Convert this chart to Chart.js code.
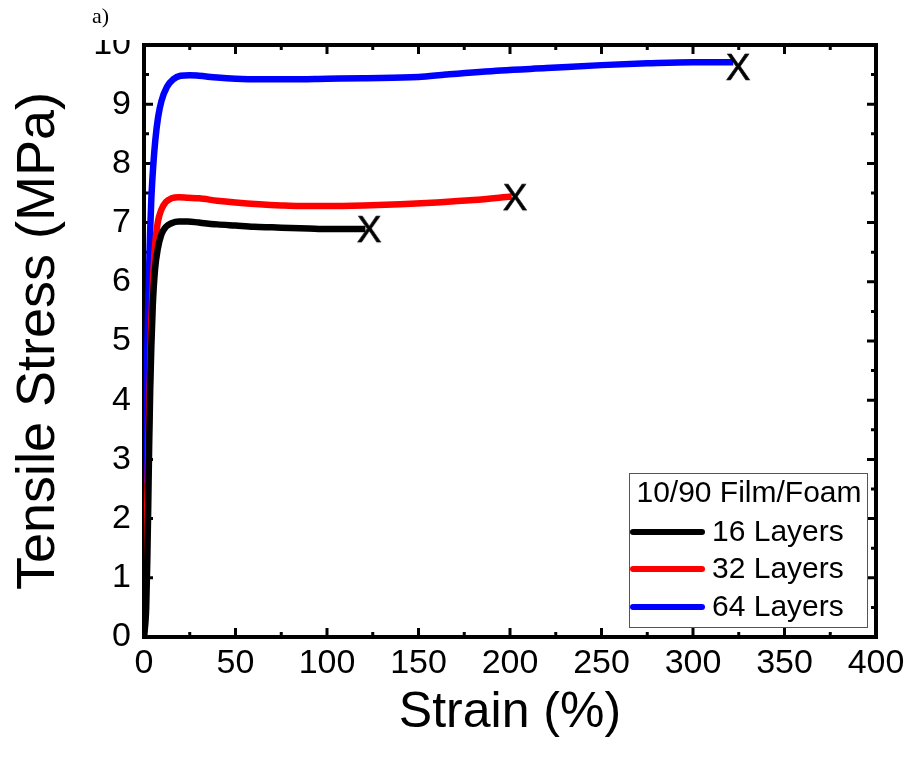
<!DOCTYPE html>
<html>
<head>
<meta charset="utf-8">
<script src="https://cdn.jsdelivr.net/npm/chart.js@4.4.0/dist/chart.umd.min.js"></script>
<style>
html, body { margin: 0; padding: 0; background: #fff; }
</style>
</head>
<body>
<canvas id="stress-strain-chart" width="911" height="767"></canvas>
<script>
const seriesLabels = ['16 Layers', '32 Layers', '64 Layers'];
const seriesColors = ['#000000', '#ff0000', '#0000ff'];
const legendTitle = '10/90 Film/Foam';

const strain16 = [0, 1.2, 1.8, 2.3, 2.8, 3.4, 4, 4.8, 6, 7.5, 9.5, 12, 15, 19, 24, 30, 40, 50, 60, 70, 80, 90, 100, 110, 121];
const stress16 = [0, 0.5, 1.3, 2.2, 3.2, 4.2, 4.9, 5.6, 6.2, 6.55, 6.8, 6.93, 6.99, 7.02, 7.02, 7.0, 6.97, 6.95, 6.93, 6.92, 6.91, 6.9, 6.89, 6.89, 6.89];

const strain32 = [0, 1, 1.5, 2, 2.7, 3.7, 4.7, 6, 7.5, 9.5, 12, 15, 19, 24, 30, 40, 50, 63, 75, 85, 100, 120, 140, 160, 180, 201];
const stress32 = [0, 0.9, 1.7, 2.6, 3.6, 5.0, 5.9, 6.6, 7.0, 7.22, 7.35, 7.41, 7.43, 7.42, 7.41, 7.37, 7.34, 7.31, 7.29, 7.28, 7.28, 7.29, 7.31, 7.34, 7.38, 7.44];

const strain64 = [0.5, 1, 1.5, 2.2, 3.3, 4, 5, 6.2, 7.7, 9.5, 12.5, 16, 20, 25, 30, 40, 50, 63, 80, 100, 120, 150, 165, 195, 220, 250, 275, 300, 322];
const stress64 = [2.6, 3.5, 4.4, 5.5, 6.8, 7.4, 7.94, 8.4, 8.78, 9.05, 9.29, 9.42, 9.48, 9.49, 9.48, 9.45, 9.43, 9.42, 9.42, 9.43, 9.44, 9.46, 9.5, 9.57, 9.61, 9.66, 9.69, 9.71, 9.71];

// break points marked with "X"
const breakStrain = [123, 202.7, 324.6];
const breakStress = [6.89, 7.43, 9.63];

const xTickStep = 50;
const yTickStep = 1;

const fontFamily = '"Liberation Sans", Arial, sans-serif';

function toPoints(xs, ys) {
    return xs.map((v, i) => ({x: v, y: ys[i]}));
}

function makeXGlyph() {
    const c = document.createElement('canvas');
    c.width = 30;
    c.height = 34;
    const g = c.getContext('2d');
    g.font = '37px ' + fontFamily;
    g.fillStyle = '#000';
    g.strokeStyle = '#000';
    g.lineWidth = 0.6;
    g.textAlign = 'center';
    g.textBaseline = 'alphabetic';
    g.fillText('X', 15, 17 + 0.358 * 37);
    g.strokeText('X', 15, 17 + 0.358 * 37);
    return c;
}

// frame round the plot with inward ticks on all four sides
const frameAndTicks = {
    id: 'frameAndTicks',
    beforeDatasetsDraw(chart) {
        const {ctx, chartArea: a, scales: {x, y}} = chart;
        ctx.save();
        ctx.strokeStyle = '#000';
        ctx.lineWidth = 3;
        ctx.beginPath();
        for (let v = x.min; v <= x.max; v += xTickStep / 2) {
            const px = x.getPixelForValue(v);
            const len = v % xTickStep === 0 ? 9 : 5;
            ctx.moveTo(px, a.bottom); ctx.lineTo(px, a.bottom - len);
            ctx.moveTo(px, a.top); ctx.lineTo(px, a.top + len);
        }
        for (let v = y.min; v <= y.max; v += yTickStep / 2) {
            const py = y.getPixelForValue(v);
            const len = v % yTickStep === 0 ? 9 : 5;
            ctx.moveTo(a.left, py); ctx.lineTo(a.left + len, py);
            ctx.moveTo(a.right, py); ctx.lineTo(a.right - len, py);
        }
        ctx.stroke();
        ctx.lineWidth = 4;
        ctx.strokeRect(a.left, a.top, a.right - a.left, a.bottom - a.top);
        ctx.restore();
    },
};

const boxLegend = {
    id: 'boxLegend',
    afterDraw(chart) {
        const {ctx, chartArea: a} = chart;
        const w = 238, h = 154;
        const left = a.right - 9 - w;
        const top = a.bottom - 10 - h;
        ctx.save();
        ctx.fillStyle = '#fff';
        ctx.fillRect(left, top, w, h);
        ctx.strokeStyle = '#555';
        ctx.lineWidth = 1;
        ctx.strokeRect(left + 0.5, top + 0.5, w, h);
        ctx.font = '30px ' + fontFamily;
        ctx.fillStyle = '#000';
        ctx.textBaseline = 'middle';
        ctx.textAlign = 'center';
        ctx.fillText(legendTitle, left + w / 2 + 1, top + 21);
        const rows = [59, 96, 134];
        ctx.textAlign = 'left';
        seriesLabels.forEach((label, i) => {
            const cy = top + rows[i];
            ctx.strokeStyle = seriesColors[i];
            ctx.lineWidth = 6;
            ctx.lineCap = 'round';
            ctx.beginPath();
            ctx.moveTo(left + 4, cy);
            ctx.lineTo(left + 73, cy);
            ctx.stroke();
            ctx.fillText(label, left + 83, cy + 1);
        });
        ctx.restore();
    },
};

const panelLabel = {
    id: 'panelLabel',
    afterDraw(chart) {
        const {ctx} = chart;
        ctx.save();
        // the top of the "10" label is cut off in the original figure
        ctx.fillStyle = '#fff';
        ctx.fillRect(85, 0, 55, 40);
        ctx.fillStyle = '#000';
        ctx.font = '22px "Liberation Serif", "Times New Roman", serif';
        ctx.textBaseline = 'alphabetic';
        ctx.textAlign = 'left';
        ctx.fillText('a)', 92, 23);
        ctx.restore();
    },
};

const canvas = document.getElementById('stress-strain-chart');
const ctx = canvas.getContext('2d');

const lineStyle = {
    showLine: true,
    pointRadius: 0,
    borderWidth: 6.5,
    cubicInterpolationMode: 'monotone',
    fill: false,
};

const chart = new Chart(ctx, {
    type: 'scatter',
    data: {
        datasets: [
            {
                label: 'Break',
                data: toPoints(breakStrain, breakStress),
                pointStyle: makeXGlyph(),
                pointRadius: 12,
                showLine: false,
                clip: false,
            },
            {
                label: seriesLabels[0],
                data: toPoints(strain16, stress16),
                borderColor: seriesColors[0],
                backgroundColor: seriesColors[0],
                ...lineStyle,
            },
            {
                label: seriesLabels[1],
                data: toPoints(strain32, stress32),
                borderColor: seriesColors[1],
                backgroundColor: seriesColors[1],
                ...lineStyle,
            },
            {
                label: seriesLabels[2],
                data: toPoints(strain64, stress64),
                borderColor: seriesColors[2],
                backgroundColor: seriesColors[2],
                ...lineStyle,
            },
        ],
    },
    options: {
        responsive: false,
        animation: false,
        events: [],
        layout: {
            padding: {left: 0, top: 45, right: 35, bottom: 0},
        },
        plugins: {
            legend: {display: false},
            tooltip: {enabled: false},
        },
        scales: {
            x: {
                type: 'linear',
                min: 0,
                max: 400,
                grid: {display: false, drawTicks: false},
                border: {display: false},
                ticks: {
                    stepSize: xTickStep,
                    color: '#000',
                    padding: 6,
                    maxRotation: 0,
                    font: {family: fontFamily, size: 34},
                },
                title: {
                    display: true,
                    text: 'Strain (%)',
                    color: '#000',
                    font: {family: fontFamily, size: 50},
                    padding: {top: 0, bottom: 24},
                },
                afterFit(scale) {
                    scale.height = 130;
                },
            },
            y: {
                type: 'linear',
                min: 0,
                max: 10,
                grid: {display: false, drawTicks: false},
                border: {display: false},
                ticks: {
                    stepSize: yTickStep,
                    color: '#000',
                    padding: 13,
                    font: {family: fontFamily, size: 34},
                },
                title: {
                    display: true,
                    text: 'Tensile Stress (MPa)',
                    color: '#000',
                    font: {family: fontFamily, size: 54},
                    padding: {top: 7, bottom: 0},
                },
                afterFit(scale) {
                    scale.width = 144;
                },
            },
        },
    },
    plugins: [frameAndTicks, boxLegend, panelLabel],
});
</script>
</body>
</html>
